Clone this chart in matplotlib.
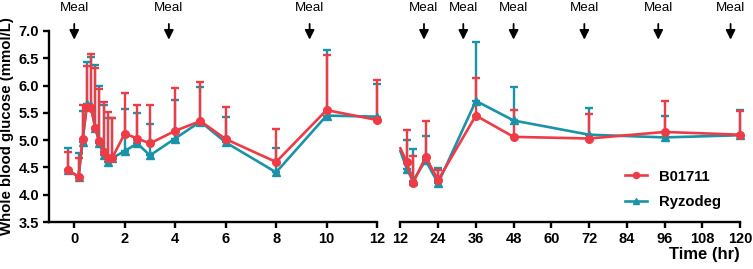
import numpy as np
import matplotlib
matplotlib.use('Agg')
import matplotlib.pyplot as plt

plt.rcParams['font.family'] = ['Liberation Sans', 'DejaVu Sans']

RED = '#EE3B46'
TEAL = '#1A93A8'

# first 12 h
t1 = [-0.25, 0.17, 0.33, 0.5, 0.67, 0.83, 1.0, 1.17, 1.33, 1.5, 2, 2.5, 3, 4, 5, 6, 8, 10, 12]
b_mean1 = [4.45, 4.33, 5.03, 5.61, 5.58, 5.23, 4.98, 4.79, 4.67, 4.67, 5.12, 5.03, 4.94, 5.17, 5.35, 5.02, 4.60, 5.55, 5.37]
b_up1 = [4.79, 4.68, 5.64, 6.36, 6.58, 6.33, 5.93, 5.70, 5.51, 5.40, 5.87, 5.64, 5.65, 5.95, 6.06, 5.61, 5.20, 6.56, 6.10]
r_mean1 = [4.45, 4.33, 4.97, 5.67, 5.62, 5.23, 4.94, 4.72, 4.60, 4.67, 4.80, 4.94, 4.72, 5.03, 5.34, 4.96, 4.41, 5.45, 5.43]
r_up1 = [4.85, 4.77, 5.53, 6.43, 6.52, 6.38, 5.99, 5.64, 5.40, 5.40, 5.57, 5.50, 5.29, 5.73, 5.98, 5.43, 4.85, 6.65, 6.03]

# 12 - 120 h (first value is where the line enters the axis)
t2 = [12, 14, 16, 20, 24, 36, 48, 72, 96, 120]
b_mean2 = [4.85, 4.60, 4.21, 4.69, 4.27, 5.45, 5.06, 5.03, 5.15, 5.10]
b_up2 = [4.85, 5.18, 4.71, 5.35, 4.45, 6.14, 5.55, 5.48, 5.72, 5.53]
r_mean2 = [4.80, 4.48, 4.25, 4.63, 4.21, 5.72, 5.36, 5.10, 5.05, 5.09]
r_up2 = [4.80, 5.00, 4.83, 5.08, 4.49, 6.79, 5.98, 5.59, 5.45, 5.56]

meals1 = [0, 3.75, 9.33]
meals2 = [19.5, 32, 48, 70.5, 94, 117]

fig = plt.figure(figsize=(7.53, 2.69), dpi=100)
ax1 = fig.add_axes([49 / 753, 1 - 222 / 269, 328 / 753, 191 / 269])
ax2 = fig.add_axes([400.4 / 753, 1 - 222 / 269, 339.6 / 753, 191 / 269], sharey=ax1)


def draw(ax, t, mean, up, color, marker, label, skip=0):
    t = np.array(t)
    mean = np.array(mean)
    up = np.array(up)
    eb = ax.errorbar(t[skip:], mean[skip:], yerr=[np.zeros(len(t) - skip), up[skip:] - mean[skip:]],
                     fmt='none', ecolor=color, elinewidth=1.7, capsize=3, capthick=1.7, zorder=3)
    for art in eb.lines[1] + eb.lines[2]:
        art.set_clip_on(False)
    ax.plot(t, mean, color=color, lw=1.9, marker=marker, ms=5.5, clip_on=False,
            markevery=slice(skip, None), label=label, zorder=4)


draw(ax1, t1, r_mean1, r_up1, TEAL, '^', 'Ryzodeg')
draw(ax1, t1, b_mean1, b_up1, RED, 'o', 'B01711')
draw(ax2, t2, r_mean2, r_up2, TEAL, '^', 'Ryzodeg', skip=1)
draw(ax2, t2, b_mean2, b_up2, RED, 'o', 'B01711', skip=1)

ax1.set_xlim(-1, 12)
ax1.set_ylim(3.5, 7.0)
ax1.set_xticks(np.arange(0, 13, 2))
ax1.set_yticks(np.arange(3.5, 7.01, 0.5))
ax1.set_yticklabels(['%.1f' % v for v in np.arange(3.5, 7.01, 0.5)])
ax2.set_xlim(12, 120)
ax2.set_xticks(np.arange(12, 121, 12))

for ax in (ax1, ax2):
    for s in ('top', 'right'):
        ax.spines[s].set_visible(False)
    ax.spines['bottom'].set_linewidth(1.7)
    ax.spines['left'].set_linewidth(1.7)
    ax.tick_params(length=4, width=1.7, labelsize=10.5, pad=3)
    for lab in ax.get_xticklabels() + ax.get_yticklabels():
        lab.set_fontweight('bold')
ax2.spines['left'].set_visible(False)
ax2.tick_params(axis='y', left=False, labelleft=False)

ax1.set_ylabel('Whole blood glucose (mmol/L)', fontsize=10.8, fontweight='bold', labelpad=3)
ax2.set_xlabel('Time (hr)', fontsize=12, fontweight='bold', loc='right', labelpad=1)

for ax, meals in ((ax1, meals1), (ax2, meals2)):
    for m in meals:
        ax.annotate('', xy=(m, 6.79), xytext=(m, 7.18), annotation_clip=False,
                    arrowprops=dict(arrowstyle='-|>', color='black', lw=1.3, mutation_scale=14))
        ax.text(m, 7.43, 'Meal', ha='center', va='center', fontsize=9.6, clip_on=False)

handles, labels = ax2.get_legend_handles_labels()
order = [labels.index('B01711'), labels.index('Ryzodeg')]
leg = ax2.legend([handles[i] for i in order], [labels[i] for i in order],
                 loc='lower left', bbox_to_anchor=(0.64, 0.03), frameon=False,
                 borderpad=0, handlelength=1.45, handletextpad=0.8, labelspacing=0.75,
                 markerscale=0.8, prop={'weight': 'bold', 'size': 10.7})

fig.savefig('out.png', dpi=100)
